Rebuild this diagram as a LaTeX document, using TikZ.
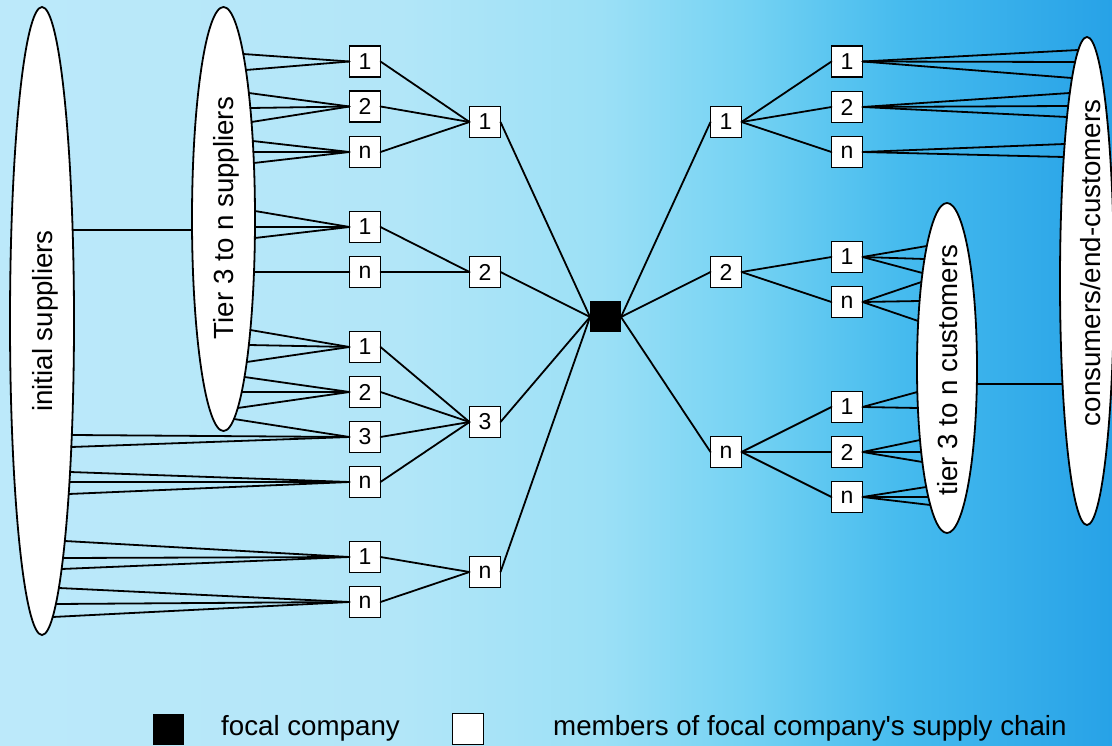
\documentclass[tikz,border=0pt]{standalone}
\usepackage{fontspec}
\setmainfont{Liberation Sans}[Ligatures=TeXOff]
\usetikzlibrary{shapes.geometric,calc}

\definecolor{skyA}{HTML}{BCE9FA}
\definecolor{skyB}{HTML}{B2E6F8}
\definecolor{skyC}{HTML}{9CE0F6}
\definecolor{skyD}{HTML}{74D2F3}
\definecolor{skyE}{HTML}{46BBEE}
\definecolor{skyF}{HTML}{27A2E7}

% left-to-right sky gradient; 25bp..75bp spans the picture width
\pgfdeclarehorizontalshading{skyband}{100bp}{%
  color(0bp)=(skyA); color(25bp)=(skyA); color(43bp)=(skyB);
  color(52bp)=(skyC); color(58.7bp)=(skyD); color(65.5bp)=(skyE);
  color(75bp)=(skyF); color(100bp)=(skyF)}

% offset from the centre of an upright ellipse (centre y #1, radii #2,#3)
% to its outline at picture height #5, east (#4=1) or west (#4=-1) side
\newcommand\borderoffset[5]{%
  \pgfmathsetmacro\fs{(#1-(#5))/#3}%
  \pgfmathsetmacro\fdx{#4*#2*sqrt(1-\fs*\fs)}%
  \pgfmathsetmacro\fdy{(#5)-(#1)}}

% several links from one box anchor to points on an ellipse outline
\newcommand\fanlinks[7]{%
  \foreach \py in {#7} {%
    \borderoffset{#3}{#4}{#5}{#6}{\py}%
    \draw[link] (#1) -- ($(#2.center)+(\fdx,\fdy)$);%
  }}

\begin{document}
\begin{tikzpicture}[x=1pt, y=-1pt,
  link/.style={line width=1.8pt, black, line cap=round},
  group/.style={ellipse, draw, fill=white, line width=1.8pt,
    inner sep=0pt, outer sep=0pt},
  grouplabel/.style={rotate=90, anchor=base, inner sep=0pt,
    font=\fontsize{27.7}{30}\selectfont},
  member/.style={rectangle, draw, fill=white, line width=1.8pt,
    minimum size=31pt, inner sep=0pt, outer sep=0pt,
    font=\fontsize{23}{23}\selectfont},
  focalbox/.style={rectangle, fill=black, minimum size=31pt,
    inner sep=0pt, outer sep=0pt},
  legendtext/.style={anchor=base west, inner sep=0pt,
    font=\fontsize{27.7}{30}\selectfont}]

\clip (0,0) rectangle (1112,746);
\shade[shading=skyband] (0,0) rectangle (1112,746);

% groups of suppliers and customers
\node[group, minimum width=64pt, minimum height=628pt] (init) at (42,321) {};
\node[group, minimum width=63pt, minimum height=424pt] (tier) at (223.5,219) {};
\node[group, minimum width=60pt, minimum height=330pt] (cust) at (947,368) {};
\node[group, minimum width=54pt, minimum height=488pt] (cons) at (1087,281) {};

\node[grouplabel] (initlbl) at (52,321) {initial suppliers};
\node[grouplabel] (tierlbl) at (233,218) {Tier 3 to n suppliers};
\node[grouplabel] (custlbl) at (957,370) {tier 3 to n customers};
\node[grouplabel] (conslbl) at (1100,263) {consumers/end-customers};

% upstream members
\node[member] (A1) at (365,61.5) {1};
\node[member] (A2) at (365,106.5) {2};
\node[member] (An) at (365,152) {n};
\node[member] (B1) at (365,227) {1};
\node[member] (Bn) at (365,272) {n};
\node[member] (C1) at (365,347) {1};
\node[member] (C2) at (365,392) {2};
\node[member] (C3) at (365,437) {3};
\node[member] (Cn) at (365,482) {n};
\node[member] (D1) at (365,557) {1};
\node[member] (Dn) at (365,602) {n};

\node[member] (E1) at (485,122) {1};
\node[member] (E2) at (485,272) {2};
\node[member] (E3) at (485,422) {3};
\node[member] (En) at (485,572) {n};

% focal company
\node[focalbox] (focal) at (605.5,317) {};

% downstream members
\node[member] (F1) at (726,122) {1};
\node[member] (F2) at (726,272) {2};
\node[member] (Fn) at (726,452) {n};

\node[member] (G1) at (847,61.5) {1};
\node[member] (G2) at (847,107) {2};
\node[member] (Gn) at (847,152) {n};
\node[member] (H1) at (847,257) {1};
\node[member] (Hn) at (847,302) {n};
\node[member] (I1) at (847,407) {1};
\node[member] (I2) at (847,452) {2};
\node[member] (In) at (847,497) {n};

% links between the groups
\borderoffset{321}{32}{314}{1}{230}
\coordinate (initlink) at ($(init.center)+(\fdx,\fdy)$);
\borderoffset{219}{31.5}{212}{-1}{230}
\draw[link] (initlink) -- ($(tier.center)+(\fdx,\fdy)$);
\borderoffset{368}{30}{165}{1}{384}
\coordinate (custlink) at ($(cust.center)+(\fdx,\fdy)$);
\borderoffset{281}{27}{244}{-1}{384}
\draw[link] (custlink) -- ($(cons.center)+(\fdx,\fdy)$);

% upstream fans
\fanlinks{A1.west}{tier}{219}{31.5}{212}{1}{54,70}
\fanlinks{A2.west}{tier}{219}{31.5}{212}{1}{93,108,122}
\fanlinks{An.west}{tier}{219}{31.5}{212}{1}{141,152,163}
\fanlinks{B1.west}{tier}{219}{31.5}{212}{1}{211,227,238}
\fanlinks{Bn.west}{tier}{219}{31.5}{212}{1}{272}
\fanlinks{C1.west}{tier}{219}{31.5}{212}{1}{330,345,362}
\fanlinks{C2.west}{tier}{219}{31.5}{212}{1}{377,392,408}
\fanlinks{C3.west}{tier}{219}{31.5}{212}{1}{419}
\fanlinks{C3.west}{init}{321}{32}{314}{1}{435,447}
\fanlinks{Cn.west}{init}{321}{32}{314}{1}{472,482,494}
\fanlinks{D1.west}{init}{321}{32}{314}{1}{541,558,569}
\fanlinks{Dn.west}{init}{321}{32}{314}{1}{588,604,617}

% downstream fans
\fanlinks{G1.east}{cons}{281}{27}{244}{-1}{50,62,78}
\fanlinks{G2.east}{cons}{281}{27}{244}{-1}{93,106,117}
\fanlinks{Gn.east}{cons}{281}{27}{244}{-1}{144,157}
\fanlinks{H1.east}{cust}{368}{30}{165}{-1}{246,259,273}
\fanlinks{Hn.east}{cust}{368}{30}{165}{-1}{282,301,321}
\fanlinks{I1.east}{cust}{368}{30}{165}{-1}{392,408}
\fanlinks{I2.east}{cust}{368}{30}{165}{-1}{440,452,462}
\fanlinks{In.east}{cust}{368}{30}{165}{-1}{487,497,505}

% member-to-member links
\foreach \s/\t in {A1/E1, A2/E1, An/E1, B1/E2, Bn/E2,
    C1/E3, C2/E3, C3/E3, Cn/E3, D1/En, Dn/En,
    E1/focal, E2/focal, E3/focal, En/focal}
  \draw[link] (\s.east) -- (\t.west);
\foreach \s/\t in {focal/F1, focal/F2, focal/Fn,
    F1/G1, F1/G2, F1/Gn, F2/H1, F2/Hn, Fn/I1, Fn/I2, Fn/In}
  \draw[link] (\s.east) -- (\t.west);

% legend
\node[focalbox] (legfocal) at (168,729) {};
\node[legendtext] (legfocaltxt) at (221,735) {focal company};
\node[member] (legmember) at (468,729) {};
\node[legendtext] (legmembertxt) at (553,735) {members of focal company's supply chain};
\end{tikzpicture}
\end{document}
